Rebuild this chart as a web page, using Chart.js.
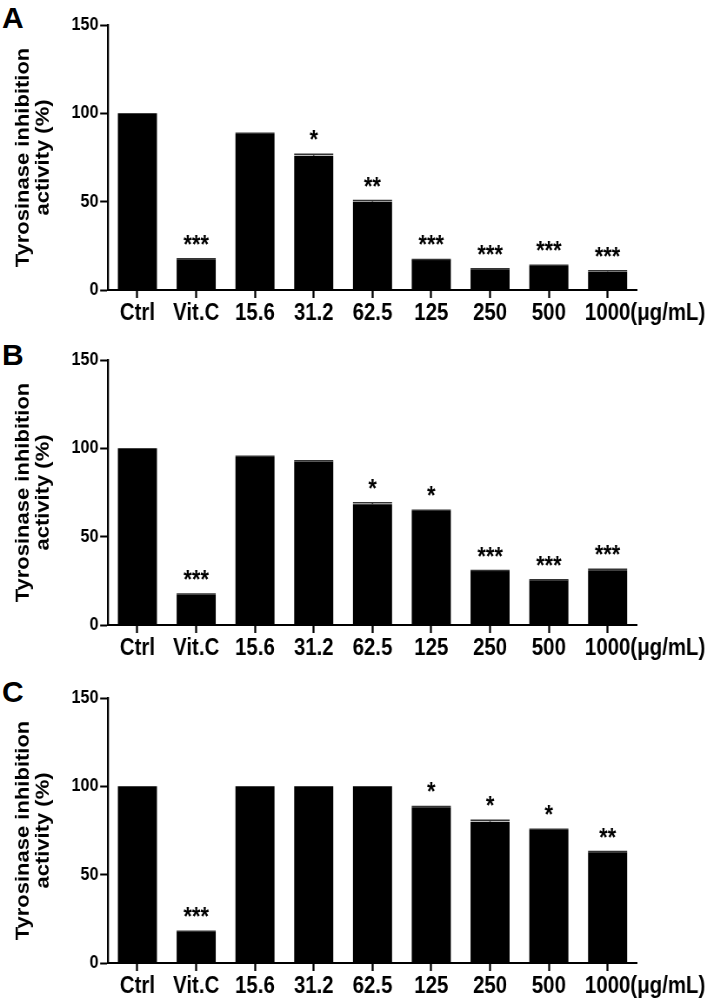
<!DOCTYPE html>
<html>
<head>
<meta charset="utf-8">
<script src="https://cdn.jsdelivr.net/npm/chart.js@4.4.1/dist/chart.umd.min.js"></script>
<style>
  html, body { margin: 0; padding: 0; background: #fff; overflow: hidden; }
  .panel { position: absolute; left: 0; width: 707px; }
  .letter { position: absolute; left: 2px; font: bold 30px/1 "Liberation Sans", Arial, sans-serif; color: #000; }
</style>
</head>
<body>
<div class="letter" style="top:3px">A</div>
<div class="letter" style="top:340px">B</div>
<div class="letter" style="top:677px">C</div>
<!-- canvases are drawn wider and squeezed to 707px, the original figure has narrow tall lettering -->
<canvas id="chartA" class="panel" style="top:0px;width:707px;height:333px" width="813" height="333"></canvas>
<canvas id="chartB" class="panel" style="top:335px;width:707px;height:333px" width="813" height="333"></canvas>
<canvas id="chartC" class="panel" style="top:673px;width:707px;height:325px" width="813" height="325"></canvas>
<script>
const categories = ['Ctrl', 'Vit.C', '15.6', '31.2', '62.5', '125', '250', '500', '1000'];
const unitLabel = '(\u03bcg/mL)';
const yTicks = [0, 50, 100, 150];

// panel A
const valuesA = [100, 17.4, 88.3, 76, 50, 17, 11.7, 13.6, 10.4];
const errorsA = [0, 0.3, 0.4, 0.8, 0.6, 0.3, 0.3, 0.4, 0.5];
const starsA = ['', '***', '', '*', '**', '***', '***', '***', '***'];

// panel B
const valuesB = [100, 17.2, 95.1, 92.6, 68.4, 64.5, 30.5, 25.3, 31];
const errorsB = [0, 0.3, 0.4, 0.4, 0.8, 0.5, 0.3, 0.3, 0.5];
const starsB = ['', '***', '', '', '*', '*', '***', '***', '***'];

// panel C
const valuesC = [100, 17.7, 100, 100, 100, 88.2, 80, 75.3, 62.7];
const errorsC = [0, 0.3, 0, 0, 0, 0.4, 0.8, 0.4, 0.4];
const starsC = ['', '***', '', '', '', '*', '*', '*', '**'];

const FONT = '"Liberation Sans", Arial, sans-serif';
const SQUEEZE = 813 / 707;

const marksPlugin = {
  id: 'marks',
  afterDatasetsDraw(chart, args, opts) {
    const ctx = chart.ctx;
    const ys = chart.scales.y;
    const meta = chart.getDatasetMeta(0);
    ctx.save();
    meta.data.forEach((bar, i) => {
      const v = opts.values[i];
      const err = opts.errors[i];
      const capY = ys.getPixelForValue(v + err);
      if (err > 0) {
        ctx.strokeStyle = '#333';
        ctx.lineWidth = 1.5;
        ctx.beginPath();
        ctx.moveTo(bar.x, bar.y);
        ctx.lineTo(bar.x, capY);
        ctx.moveTo(bar.x - bar.width / 2, capY);
        ctx.lineTo(bar.x + bar.width / 2, capY);
        ctx.stroke();
      }
      if (opts.stars[i]) {
        ctx.fillStyle = '#000';
        ctx.font = 'bold 25px ' + FONT;
        ctx.textAlign = 'center';
        ctx.textBaseline = 'alphabetic';
        ctx.fillText(opts.stars[i], bar.x, capY - 6);
      }
    });
    // unit after the last category label
    const xs = chart.scales.x;
    const px = xs.getPixelForTick(categories.length - 1);
    ctx.font = 'bold 23.5px ' + FONT;
    const w = ctx.measureText(categories[categories.length - 1]).width;
    ctx.fillStyle = '#000';
    ctx.textAlign = 'left';
    ctx.textBaseline = 'middle';
    ctx.fillText(unitLabel, px + w / 2, xs.top + 8 + 1 + 23.5 * 1.2 / 2);
    ctx.restore();
  }
};

function makeChart(id, values, errors, stars, bottomPad) {
  return new Chart(document.getElementById(id), {
    type: 'bar',
    data: {
      labels: categories,
      datasets: [{
        data: values,
        backgroundColor: '#000',
        borderWidth: 0,
        categoryPercentage: 1,
        barPercentage: 0.665
      }]
    },
    options: {
      responsive: false,
      animation: false,
      devicePixelRatio: 1,
      layout: { padding: { top: 25, right: 70 * SQUEEZE, bottom: bottomPad, left: 0 } },
      plugins: {
        legend: { display: false },
        tooltip: { enabled: false },
        marks: { values: values, errors: errors, stars: stars }
      },
      scales: {
        x: {
          offset: true,
          grid: { display: true, offset: false, drawOnChartArea: false, drawTicks: true, tickLength: 8, tickWidth: 2.3, tickColor: '#000' },
          border: { display: true, color: '#000', width: 2 },
          ticks: { color: '#000', font: { family: FONT, size: 23.5, weight: 'bold' }, padding: 1, maxRotation: 0, autoSkip: false },
          afterFit(scale) { scale.height = 35; }
        },
        y: {
          min: 0,
          max: 150,
          afterBuildTicks(scale) { scale.ticks = yTicks.map(v => ({ value: v })); },
          grid: { display: true, drawOnChartArea: false, drawTicks: true, tickLength: 9, tickWidth: 2, tickColor: '#000' },
          border: { display: true, color: '#000', width: 2.3 },
          ticks: { color: '#000', font: { family: FONT, size: 18.5, weight: 'bold' }, padding: 2 },
          title: {
            display: true,
            text: ['Tyrosinase inhibition', 'activity (%)'],
            color: '#000',
            font: { family: FONT, size: 22, weight: 'bold', lineHeight: 1.05 },
            padding: { top: 15, bottom: 0 }
          },
          afterFit(scale) { scale.width = 108 * SQUEEZE; }
        }
      }
    },
    plugins: [marksPlugin]
  });
}

makeChart('chartA', valuesA, errorsA, starsA, 8);
makeChart('chartB', valuesB, errorsB, starsB, 8);
makeChart('chartC', valuesC, errorsC, starsC, 0);
</script>
</body>
</html>
